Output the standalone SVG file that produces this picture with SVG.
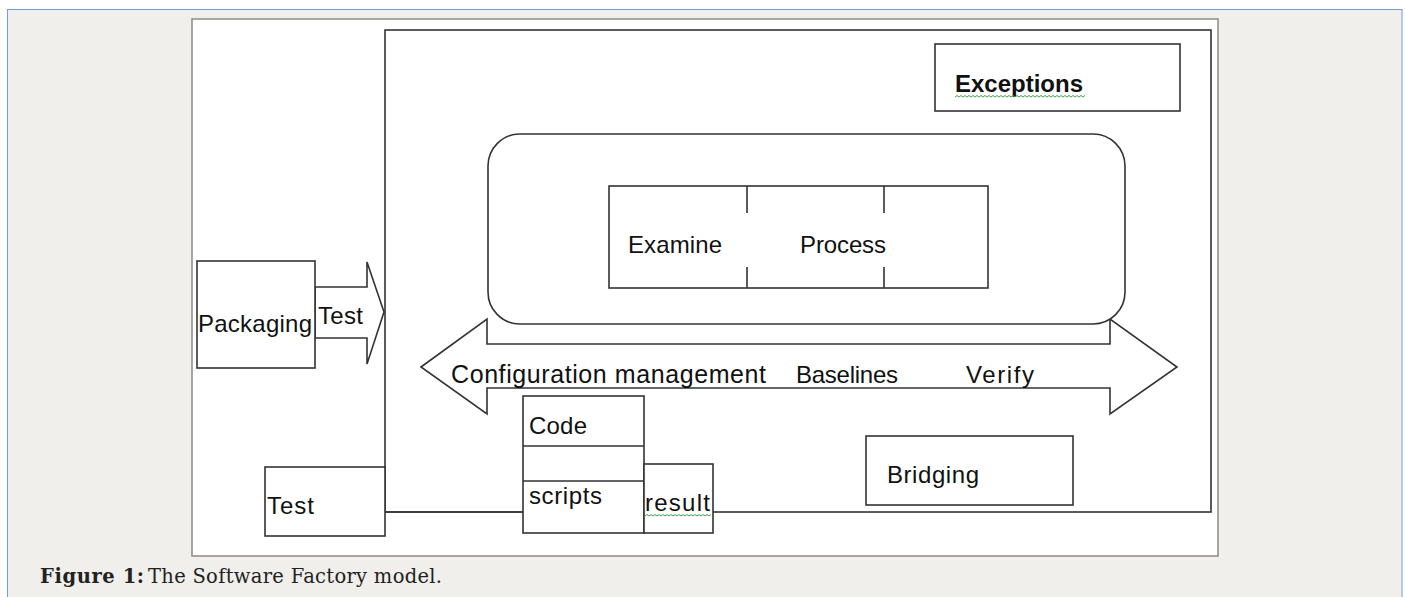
<svg xmlns="http://www.w3.org/2000/svg" width="1405" height="597" viewBox="0 0 1405 597">
  <style>
    .shape { fill: #ffffff; stroke: #333333; stroke-width: 1.6; }
    .line { fill: none; stroke: #333333; stroke-width: 1.6; }
    .lbl { font-family: "Liberation Sans", Arial, sans-serif; font-size: 24px; fill: #111111; }
    .wide { font-size: 25px; }
    .bold { font-weight: bold; }
    .squiggle { fill: none; stroke: #3fa34a; stroke-width: 1; }
    .cap { font-family: "DejaVu Serif", "Liberation Serif", serif; font-size: 19.5px; fill: #222222; }
  </style>

  <!-- page panel -->
  <rect x="0" y="0" width="1405" height="597" fill="#ffffff"/>
  <rect x="7.5" y="9.5" width="1394.5" height="600" fill="#f0efeb" stroke="#6f9fd8" stroke-width="1"/>

  <!-- figure frame -->
  <rect x="192" y="19" width="1026" height="537" fill="#ffffff" stroke="#8a8a8a" stroke-width="1.5"/>

  <!-- outer factory boundary -->
  <g id="factory">
    <rect class="shape" x="385" y="30" width="826" height="482"/>
  </g>

  <g id="connectors">
    <!-- Test block arrow from Packaging into the factory -->
    <path class="shape" d="M315,287 H367 V262 L384,312 L367,364 V338 H315 Z"/>
    <!-- double-headed configuration management arrow -->
    <path class="shape" d="M421,367 L487,319 V344 H1110 V319 L1177,367 L1110,414 V388 H487 V414 Z"/>
    <!-- Test to scripts link -->
    <path class="line" d="M385,512 H523"/>
  </g>

  <g id="process-frame">
    <rect class="shape" x="488" y="134" width="637" height="190" rx="32" ry="32"/>
  </g>

  <g id="arrow-labels">
    <text class="lbl wide" x="451" y="383" textLength="315" lengthAdjust="spacing">Configuration management</text>
    <text class="lbl" x="796" y="383" textLength="102" lengthAdjust="spacing">Baselines</text>
    <text class="lbl" x="966" y="383" textLength="68" lengthAdjust="spacing">Verify</text>
  </g>

  <g id="examine-process">
    <rect class="shape" x="609" y="186" width="379" height="102"/>
    <path class="line" d="M747,186 V213 M747,267 V288 M884,186 V213 M884,267 V288"/>
    <text class="lbl" x="628" y="253" textLength="94" lengthAdjust="spacing">Examine</text>
    <text class="lbl" x="800" y="253" textLength="86" lengthAdjust="spacing">Process</text>
  </g>

  <g id="exceptions">
    <rect class="shape" x="935" y="44" width="245" height="67"/>
    <text class="lbl bold" x="955" y="92" textLength="128" lengthAdjust="spacing">Exceptions</text>
    <path class="squiggle" d="M955,97 l2,-1.5 l2,1.5 l2,-1.5 l2,1.5 l2,-1.5 l2,1.5 l2,-1.5 l2,1.5 l2,-1.5 l2,1.5 l2,-1.5 l2,1.5 l2,-1.5 l2,1.5 l2,-1.5 l2,1.5 l2,-1.5 l2,1.5 l2,-1.5 l2,1.5 l2,-1.5 l2,1.5 l2,-1.5 l2,1.5 l2,-1.5 l2,1.5 l2,-1.5 l2,1.5 l2,-1.5 l2,1.5 l2,-1.5 l2,1.5 l2,-1.5 l2,1.5 l2,-1.5 l2,1.5 l2,-1.5 l2,1.5 l2,-1.5 l2,1.5 l2,-1.5 l2,1.5 l2,-1.5 l2,1.5 l2,-1.5 l2,1.5 l2,-1.5 l2,1.5 l2,-1.5 l2,1.5 l2,-1.5 l2,1.5 l2,-1.5 l2,1.5 l2,-1.5 l2,1.5 l2,-1.5 l2,1.5 l2,-1.5 l2,1.5 l2,-1.5 l2,1.5 l2,-1.5 l2,1.5 l2,-1.5"/>
  </g>

  <g id="packaging">
    <rect class="shape" x="197" y="261" width="118" height="107"/>
    <text class="lbl" x="198" y="332" textLength="114" lengthAdjust="spacing">Packaging</text>
  </g>

  <g id="test-arrow-label">
    <text class="lbl" x="318" y="324" textLength="45" lengthAdjust="spacing">Test</text>
  </g>

  <g id="code-scripts">
    <rect class="shape" x="523" y="396" width="121" height="137"/>
    <path class="line" d="M523,446 H644 M523,481 H644"/>
    <text class="lbl" x="529" y="434" textLength="58" lengthAdjust="spacing">Code</text>
    <text class="lbl" x="529" y="504" textLength="73" lengthAdjust="spacing">scripts</text>
  </g>

  <g id="result">
    <rect class="shape" x="644" y="464" width="69" height="69"/>
    <text class="lbl" x="645" y="511" textLength="65" lengthAdjust="spacing">result</text>
    <path class="squiggle" d="M645,516 l2,-1.5 l2,1.5 l2,-1.5 l2,1.5 l2,-1.5 l2,1.5 l2,-1.5 l2,1.5 l2,-1.5 l2,1.5 l2,-1.5 l2,1.5 l2,-1.5 l2,1.5 l2,-1.5 l2,1.5 l2,-1.5 l2,1.5 l2,-1.5 l2,1.5 l2,-1.5 l2,1.5 l2,-1.5 l2,1.5 l2,-1.5 l2,1.5 l2,-1.5 l2,1.5 l2,-1.5 l2,1.5 l2,-1.5 l2,1.5 l2,-1.5"/>
  </g>

  <g id="test">
    <rect class="shape" x="265" y="467" width="120" height="69"/>
    <text class="lbl" x="267" y="514" textLength="47" lengthAdjust="spacing">Test</text>
  </g>

  <g id="bridging">
    <rect class="shape" x="866" y="436" width="207" height="69"/>
    <text class="lbl" x="887" y="483" textLength="92" lengthAdjust="spacing">Bridging</text>
  </g>

  <g id="caption">
    <text class="cap" x="40" y="583"><tspan font-weight="bold" textLength="104" lengthAdjust="spacing">Figure 1:</tspan><tspan x="148" textLength="294" lengthAdjust="spacing">The Software Factory model.</tspan></text>
  </g>
</svg>
